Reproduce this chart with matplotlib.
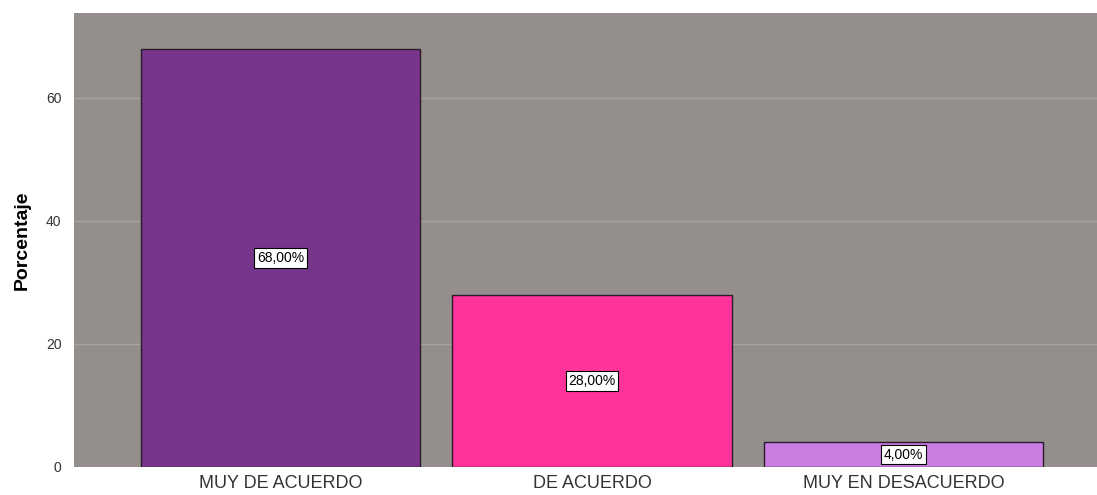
import numpy as np
import matplotlib
matplotlib.use("Agg")
import matplotlib.pyplot as plt

plt.rcParams["font.family"] = ["Liberation Sans", "DejaVu Sans"]

categorias = ["MUY DE ACUERDO", "DE ACUERDO", "MUY EN DESACUERDO"]
porcentajes = [68.0, 28.0, 4.0]
colores = ["#77368b", "#ff3399", "#c87de0"]

fig = plt.figure(figsize=(10.97, 4.95), dpi=100)
ax = fig.add_axes([0.0675, 0.0566, 0.9325, 0.917])
ax.set_facecolor("#948f8c")

x = np.arange(len(categorias))
ax.bar(x, porcentajes, width=0.897, color=colores, edgecolor="#2a1a2a", linewidth=1.0, zorder=3)

for xi, v in zip(x, porcentajes):
    ax.text(xi, v / 2, ("%.2f%%" % v).replace(".", ","), ha="center", va="center",
            fontsize=10, color="black", zorder=4,
            bbox=dict(boxstyle="square,pad=0.2", facecolor="white", edgecolor="black", linewidth=0.8))

ax.set_xlim(-0.664, 2.622)
ax.set_ylim(0, 73.8)
ax.set_yticks([0, 20, 40, 60])
ax.yaxis.grid(True, color="#a7a3a0", linewidth=1.0, zorder=0)
ax.set_axisbelow(True)
for s in ax.spines.values():
    s.set_visible(False)
ax.tick_params(axis="both", length=0)
ax.tick_params(axis="y", labelsize=10, colors="#333333", pad=9)
ax.set_xticks(x)
ax.set_xticklabels(categorias, fontsize=13, color="#333333")
ax.tick_params(axis="x", pad=6)
ax.set_ylabel("Porcentaje", fontsize=14, fontweight="bold", labelpad=11)

fig.savefig("out.png", dpi=100)
